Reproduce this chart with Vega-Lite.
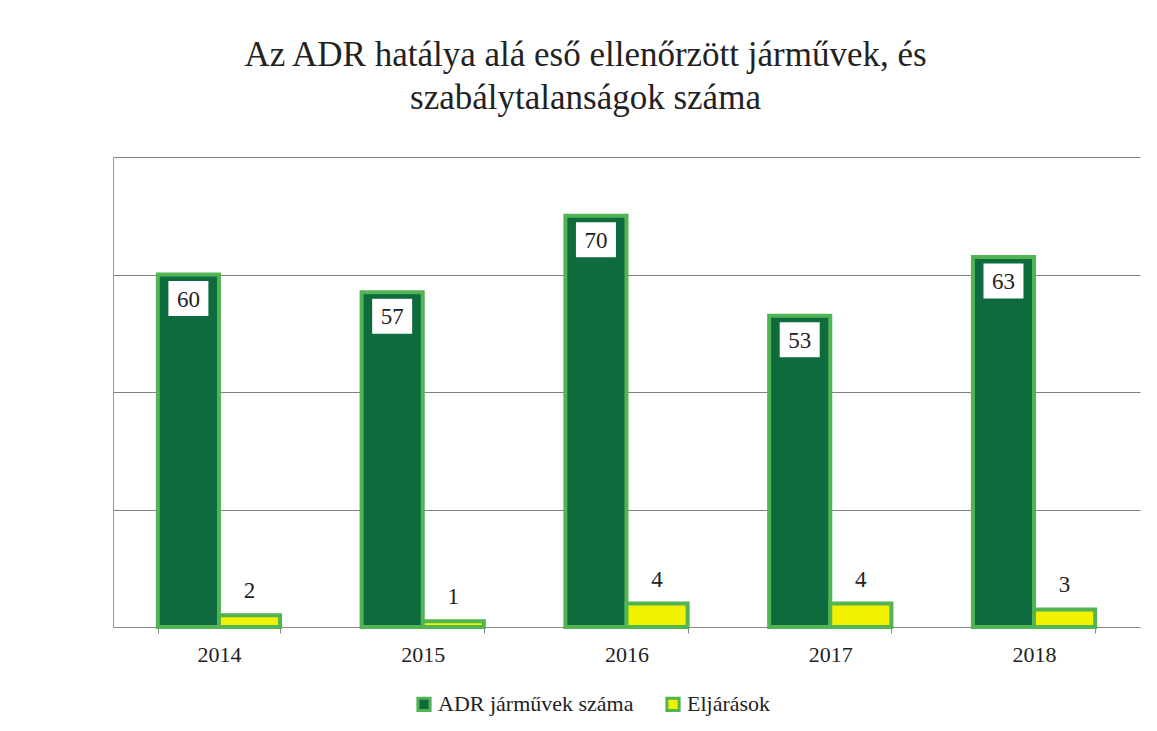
{
  "$schema": "https://vega.github.io/schema/vega-lite/v6.json",
  "autosize": {"type": "none"},
  "width": 1027,
  "height": 470,
  "padding": {"left": 113, "top": 157, "right": 17, "bottom": 104},
  "background": "white",
  "title": {
    "text": ["Az ADR hatálya alá eső ellenőrzött járművek, és", "szabálytalanságok száma"],
    "font": "Liberation Serif",
    "fontSize": 35,
    "fontWeight": "normal",
    "color": "#222222",
    "lineHeight": 43,
    "anchor": "middle",
    "dx": -41,
    "offset": 41
  },
  "data": {
    "values": [
      {"year": "2014", "series": "ADR járművek száma", "value": 60},
      {"year": "2014", "series": "Eljárások", "value": 2},
      {"year": "2015", "series": "ADR járművek száma", "value": 57},
      {"year": "2015", "series": "Eljárások", "value": 1},
      {"year": "2016", "series": "ADR járművek száma", "value": 70},
      {"year": "2016", "series": "Eljárások", "value": 4},
      {"year": "2017", "series": "ADR járművek száma", "value": 53},
      {"year": "2017", "series": "Eljárások", "value": 4},
      {"year": "2018", "series": "ADR járművek száma", "value": 63},
      {"year": "2018", "series": "Eljárások", "value": 3}
    ]
  },
  "encoding": {
    "x": {
      "field": "year",
      "type": "nominal",
      "scale": {"paddingInner": 0.4, "paddingOuter": 0.22},
      "axis": {
        "title": null,
        "labelAngle": 0,
        "labelFont": "Liberation Serif",
        "labelFontSize": 22,
        "labelColor": "#222222",
        "labelPadding": 11,
        "tickBand": "extent",
        "tickColor": "#888888",
        "tickSize": 6,
        "domainColor": "#888888",
        "grid": false
      }
    },
    "xOffset": {"field": "series", "type": "nominal", "scale": {"paddingInner": 0, "paddingOuter": 0}},
    "y": {
      "field": "value",
      "type": "quantitative",
      "scale": {"domain": [0, 80], "nice": false},
      "axis": {
        "title": null,
        "values": [0, 20, 40, 60, 80],
        "labels": false,
        "ticks": false,
        "domainColor": "#999999",
        "gridColor": "#808080",
        "gridWidth": 1
      }
    }
  },
  "layer": [
    {
      "mark": {"type": "bar", "stroke": "#52b452", "strokeWidth": 4},
      "encoding": {
        "color": {
          "field": "series",
          "type": "nominal",
          "scale": {"domain": ["ADR járművek száma", "Eljárások"], "range": ["#0d6b3e", "#f2f200"]},
          "legend": {
            "title": null,
            "orient": "none",
            "direction": "horizontal",
            "legendX": 300,
            "legendY": 536,
            "labelFont": "Liberation Serif",
            "labelFontSize": 22,
            "labelColor": "#222222",
            "labelLimit": 400,
            "symbolType": "square",
            "symbolSize": 150,
            "symbolStrokeColor": "#52b452",
            "symbolStrokeWidth": 3,
            "labelOffset": 3,
            "columnPadding": 26
          }
        }
      }
    },
    {
      "transform": [{"filter": "datum.series === 'ADR járművek száma'"}],
      "mark": {
        "type": "point",
        "shape": "M-1,-0.875L1,-0.875L1,0.875L-1,0.875Z",
        "size": 1600,
        "filled": true,
        "fill": "white",
        "opacity": 1,
        "strokeWidth": 0,
        "yOffset": 24
      },
      "encoding": {}
    },
    {
      "transform": [{"filter": "datum.series === 'ADR járművek száma'"}],
      "mark": {
        "type": "text",
        "font": "Liberation Serif",
        "fontSize": 23,
        "color": "#222222",
        "baseline": "middle",
        "yOffset": 25
      },
      "encoding": {"text": {"field": "value", "type": "quantitative"}}
    },
    {
      "transform": [{"filter": "datum.series === 'Eljárások'"}],
      "mark": {
        "type": "text",
        "font": "Liberation Serif",
        "fontSize": 23,
        "color": "#222222",
        "baseline": "middle",
        "yOffset": -24
      },
      "encoding": {"text": {"field": "value", "type": "quantitative"}}
    }
  ],
  "config": {
    "font": "Liberation Serif",
    "view": {"stroke": null}
  }
}
